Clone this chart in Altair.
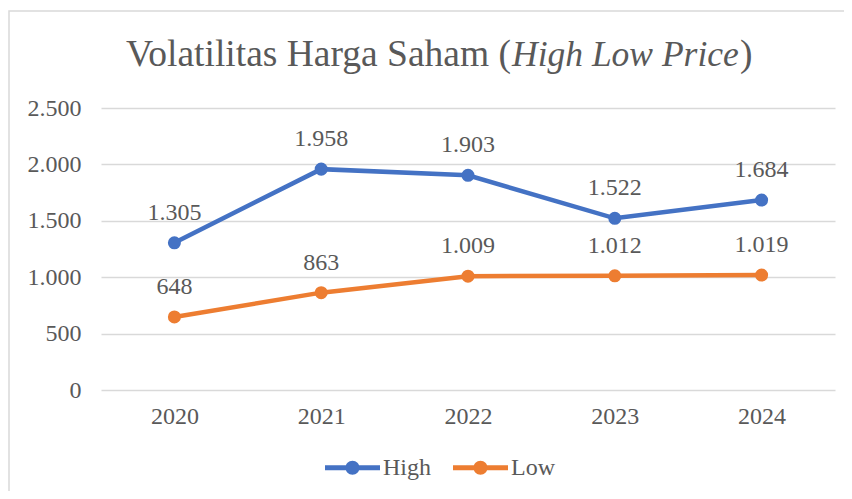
import altair as alt
import pandas as pd

years = ["2020", "2021", "2022", "2023", "2024"]
high = [1305, 1958, 1903, 1522, 1684]
low = [648, 863, 1009, 1012, 1019]
series = ["High", "Low"]
colors = ["#4472C4", "#ED7D31"]
y_ticks = [0, 500, 1000, 1500, 2000, 2500]

rows = []
for yr, h, l in zip(years, high, low):
    rows.append({"year": yr, "series": "High", "value": h})
    rows.append({"year": yr, "series": "Low", "value": l})
df = pd.DataFrame(rows)

FONT = "Times New Roman, Liberation Serif, DejaVu Serif, serif"
GRAY = "#595959"
GRID = "#d9d9d9"
FS = 24
fmt = "replace(format(datum.value, ','), ',', '.')"

x_enc = alt.X("year:N", title=None, sort=years,
              axis=alt.Axis(labelAngle=0, labelFontSize=FS, labelColor=GRAY, labelFont=FONT,
                            ticks=False, domain=False, labelPadding=14))
y_enc = alt.Y("value:Q", title=None, scale=alt.Scale(domain=[0, 2500]),
              axis=alt.Axis(values=y_ticks, labelExpr=fmt, labelFontSize=FS, labelColor=GRAY,
                            labelFont=FONT, ticks=False, domain=False, labelPadding=20,
                            gridColor=GRID, gridWidth=1.5))

legend_path = ("M-1,-0.09L1,-0.09L1,0.09L-1,0.09Z "
               "M-0.255,0A0.255,0.255 0 1,1 0.255,0A0.255,0.255 0 1,1 -0.255,0Z")
legend = alt.Legend(orient="none", legendX=224, legendY=332,
                    direction="horizontal", title=None,
                    symbolType=legend_path, symbolSize=3025,
                    symbolStrokeWidth=0, labelFontSize=FS,
                    labelFont=FONT, labelColor=GRAY, labelOffset=3,
                    columnPadding=22)
color_enc = alt.Color("series:N", scale=alt.Scale(domain=series, range=colors), legend=legend)

base = alt.Chart(df).encode(x=x_enc, y=y_enc)

line = base.mark_line(strokeWidth=4.5).encode(color=color_enc)
points = base.mark_point(filled=True, size=170, opacity=1).encode(color=color_enc)
labels = base.mark_text(dy=-30, fontSize=FS, font=FONT, color=GRAY, baseline="middle").encode(
    text="label:N"
).transform_calculate(label="replace(format(datum.value, ','), ',', '.')")

one = pd.DataFrame({"k": [0]})
frame = alt.Chart(one).mark_rect(fillOpacity=0, stroke=GRID, strokeWidth=1.5).encode(
    x=alt.value(-92), x2=alt.value(790), y=alt.value(-97), y2=alt.value(430)
)
t1 = alt.Chart(one).mark_text(text="Volatilitas Harga Saham (", align="right", baseline="alphabetic",
                              fontSize=37.5, font=FONT, color=GRAY).encode(x=alt.value(410), y=alt.value(-42))
t2 = alt.Chart(one).mark_text(text="High Low Price", align="left", baseline="alphabetic",
                              fontSize=35.5, font=FONT, fontStyle="italic", color=GRAY).encode(x=alt.value(411), y=alt.value(-42))
t3 = alt.Chart(one).mark_text(text=")", align="left", baseline="alphabetic",
                              fontSize=37.5, font=FONT, color=GRAY).encode(x=alt.value(639), y=alt.value(-42))

chart = alt.layer(frame, line, points, labels, t1, t2, t3).properties(
    width=734, height=282,
    autosize=alt.AutoSizeParams(type="none"),
    padding={"left": 93, "top": 100, "right": 9, "bottom": 101},
).configure_view(stroke=None)

chart.save("out.html", embed_options={"renderer": "svg", "actions": False})
